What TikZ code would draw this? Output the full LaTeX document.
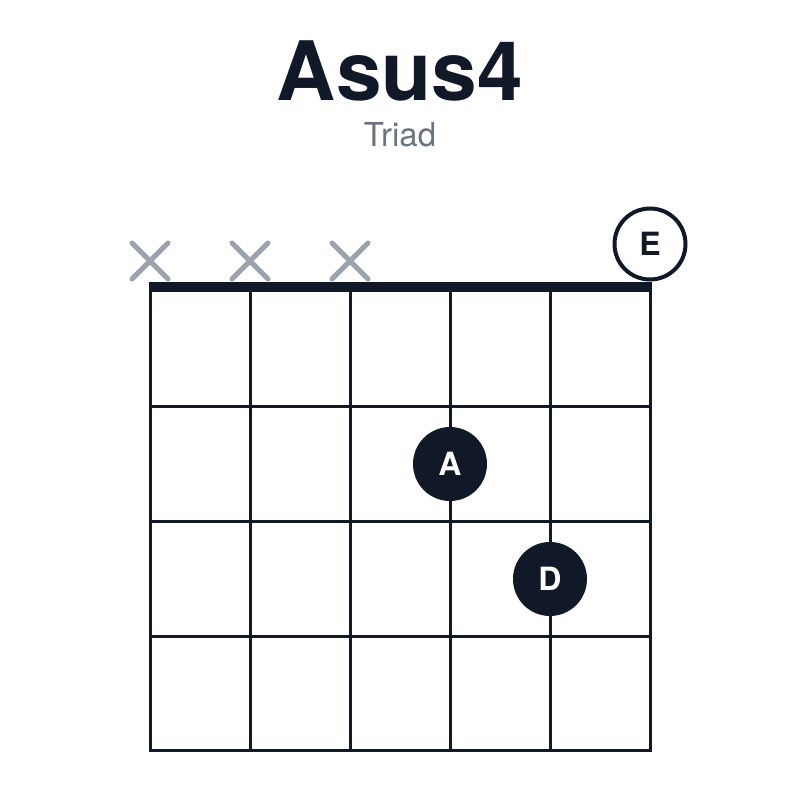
\documentclass[tikz,border=0pt]{standalone}
\usepackage{fontspec}
\setmainfont{TeX Gyre Heros}
\usepackage{xcolor}
\usetikzlibrary{shapes.misc}
\definecolor{ink}{HTML}{111827}
\definecolor{mutegray}{HTML}{9CA3AF}
\definecolor{subgray}{HTML}{6B7280}

\begin{document}
\begin{tikzpicture}[x=1pt,y=-1pt,
  gridline/.style={ink, line width=3pt},
  mute/.style={cross out, draw=mutegray, line width=5pt, line cap=round, minimum size=31pt, inner sep=0pt},
  finger/.style={circle, fill=ink, text=white, minimum size=74pt, inner sep=0pt, font=\bfseries\fontsize{32}{32}\selectfont},
  openstring/.style={circle, draw=ink, fill=white, line width=4pt, text=ink, minimum size=71pt, inner sep=0pt, font=\bfseries\fontsize{32}{32}\selectfont},]
\useasboundingbox (0,0) rectangle (800,800);
%Title
\node[anchor=base, text=ink, font=\bfseries\fontsize{82}{82}\selectfont] (title) at (400,100) {Asus4};
\node[anchor=base, text=subgray, font=\fontsize{33}{33}\selectfont] (kind) at (400,146) {Triad};

%Strings and frets
\foreach \s in {0,...,5}
  \draw[gridline] (150+100*\s,287) -- (150+100*\s,750);
\foreach \f in {406,521,636,750}
  \draw[gridline] (148.5,\f) -- (651.5,\f);
\draw[ink, line width=10pt] (148.5,287) -- (651.5,287);

%Muted strings
\node[mute] (m1) at (150,261) {};
\node[mute] (m2) at (250,261) {};
\node[mute] (m3) at (350,261) {};

%Notes
\node[openstring] (E) at (650,244) {E};
\node[finger] (A) at (450,464) {A};
\node[finger] (D) at (550,579) {D};

\end{tikzpicture}
\end{document}
